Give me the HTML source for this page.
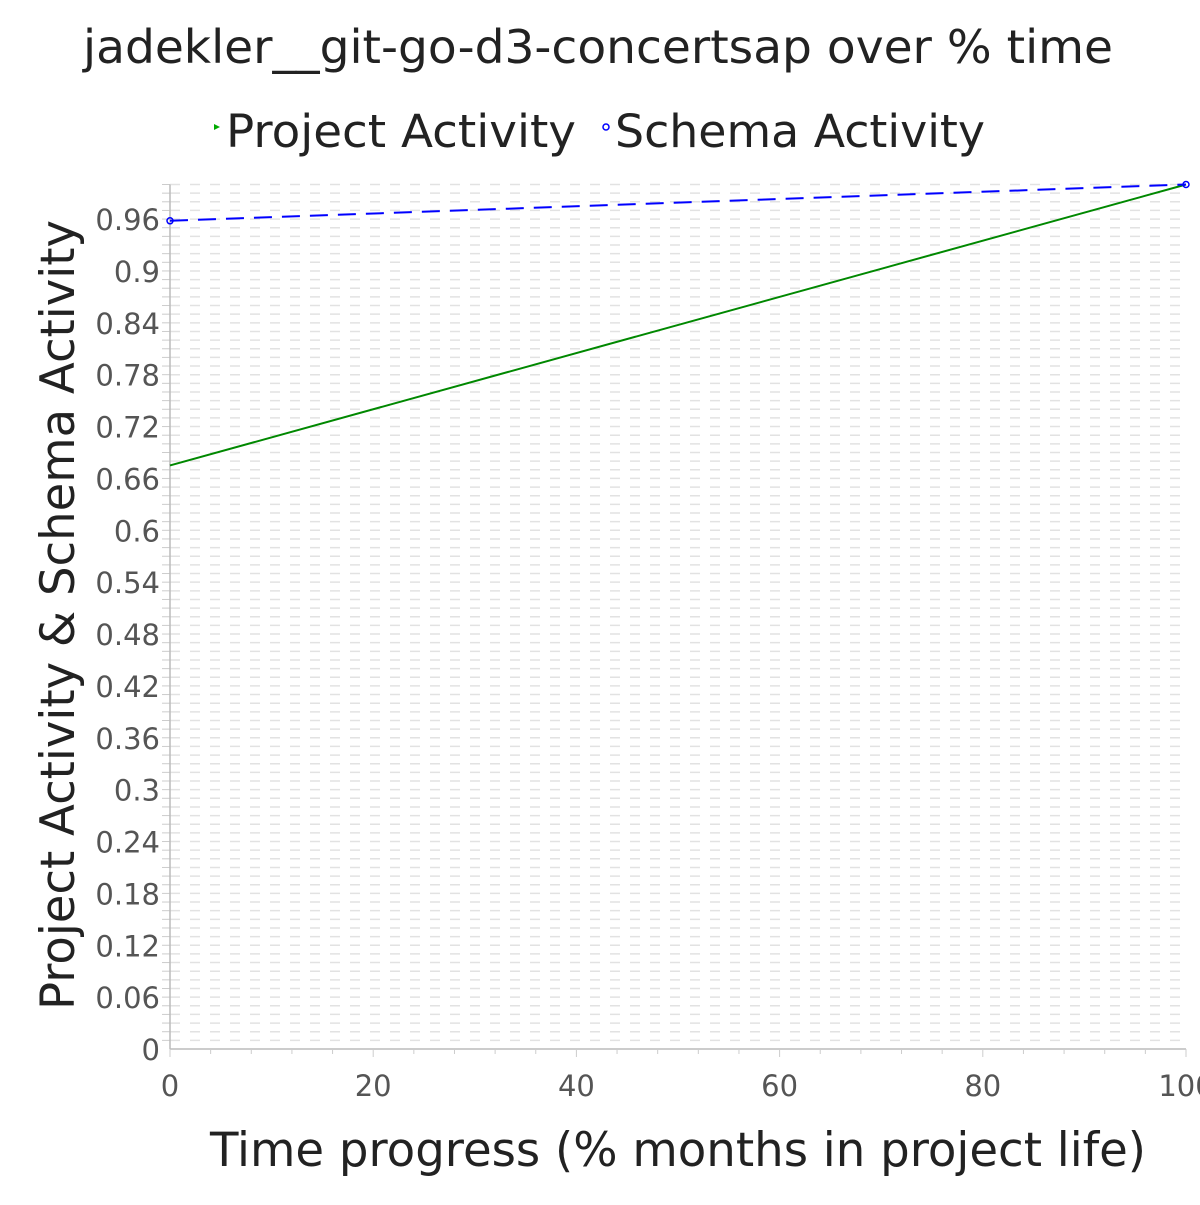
<!DOCTYPE html>
<html><head><meta charset="utf-8"><style>
body{margin:0;background:#fff;}
text{font-family:"DejaVu Sans","Liberation Sans",sans-serif;}
</style></head><body>
<svg id="chart" width="1200" height="1200" xmlns="http://www.w3.org/2000/svg">
<text x="598" y="63" text-anchor="middle" font-size="46" textLength="1030" lengthAdjust="spacingAndGlyphs" fill="#222">jadekler__git-go-d3-concertsap over % time</text>
<g>
<g><path d="M214,124 l6,3 l-6,3z" fill="#0a0"/><text x="226" y="147" font-size="45" textLength="350" lengthAdjust="spacingAndGlyphs" fill="#222">Project Activity</text></g>
<g><circle cx="606" cy="127" r="3" fill="none" stroke="#00f" stroke-width="1.5"/><text x="615" y="147" font-size="45" textLength="370" lengthAdjust="spacingAndGlyphs" fill="#222">Schema Activity</text></g>
</g>
<g id="grid"></g>
<g id="axes"></g>
<g id="series"></g>
<text x="678" y="1166" text-anchor="middle" font-size="47" textLength="936" lengthAdjust="spacingAndGlyphs" fill="#222">Time progress (% months in project life)</text>
<text transform="translate(74,615) rotate(-90)" text-anchor="middle" font-size="47" textLength="790" lengthAdjust="spacingAndGlyphs" fill="#222">Project Activity &amp; Schema Activity</text>
</svg>
<script>
const xTicks=[0,20,40,60,80,100];
const yTicks=[0,0.06,0.12,0.18,0.24,0.3,0.36,0.42,0.48,0.54,0.6,0.66,0.72,0.78,0.84,0.9,0.96];
const yTickLabels=["0","0.06","0.12","0.18","0.24","0.3","0.36","0.42","0.48","0.54","0.6","0.66","0.72","0.78","0.84","0.9","0.96"];
const xValues=[0,100];
const projectValues=[0.675,1.0];
const schemaValues=[0.958,1.0];
const X0=170,X1=1186,Y0=1049,Y1=184.5;
const xs=v=>X0+(v-0)/(100-0)*(X1-X0);
const ys=v=>Y0-(v/1.0)*(Y0-Y1);
const NS="http://www.w3.org/2000/svg";
function mk(t,a,p){const e=document.createElementNS(NS,t);for(const k in a)e.setAttribute(k,a[k]);p.appendChild(e);return e;}
const grid=document.getElementById('grid'),axes=document.getElementById('axes'),series=document.getElementById('series');
for(let i=1;i<=100;i++){const y=ys(i/100);
const l=mk('line',{x1:X0,x2:X1,y1:y,y2:y,stroke:'#e2e2e2','stroke-width':1.5,'stroke-dasharray':'10,10'},grid);


mk('line',{x1:X0-8,x2:X0,y1:y,y2:y,stroke:'#ccc','stroke-width':1},axes);}
mk('line',{x1:X0,x2:X0,y1:Y1,y2:Y0,stroke:'#bbb','stroke-width':1.5},axes);
mk('line',{x1:X0,x2:X1,y1:Y0,y2:Y0,stroke:'#bbb','stroke-width':1.5},axes);
for(let v=0;v<=100;v+=4){const x=xs(v);mk('line',{x1:x,x2:x,y1:Y0,y2:Y0+(v%20==0?8:5),stroke:'#ccc','stroke-width':1},axes);}
xTicks.forEach(v=>{const t=mk('text',{x:xs(v),y:1096,'text-anchor':'middle','font-size':29,fill:'#555'},axes);t.textContent=v;

});
yTicks.forEach((v,i)=>{const t=mk('text',{x:160,y:ys(v)+11,'text-anchor':'end','font-size':29,fill:'#555'},axes);t.textContent=yTickLabels[i];

});
const pp=xValues.map((x,i)=>xs(x)+','+ys(projectValues[i])).join(' ');
const p1=mk('polyline',{points:pp,fill:'none',stroke:'#080','stroke-width':2},series);


const sp=xValues.map((x,i)=>xs(x)+','+ys(schemaValues[i])).join(' ');
const p2=mk('polyline',{points:sp,fill:'none',stroke:'#00f','stroke-width':2,'stroke-dasharray':'18,10'},series);


xValues.forEach((x,i)=>{const c=mk('circle',{cx:xs(x),cy:ys(schemaValues[i]),r:3,fill:'none',stroke:'#00f','stroke-width':1.5},series);

});
</script>
</body></html>
